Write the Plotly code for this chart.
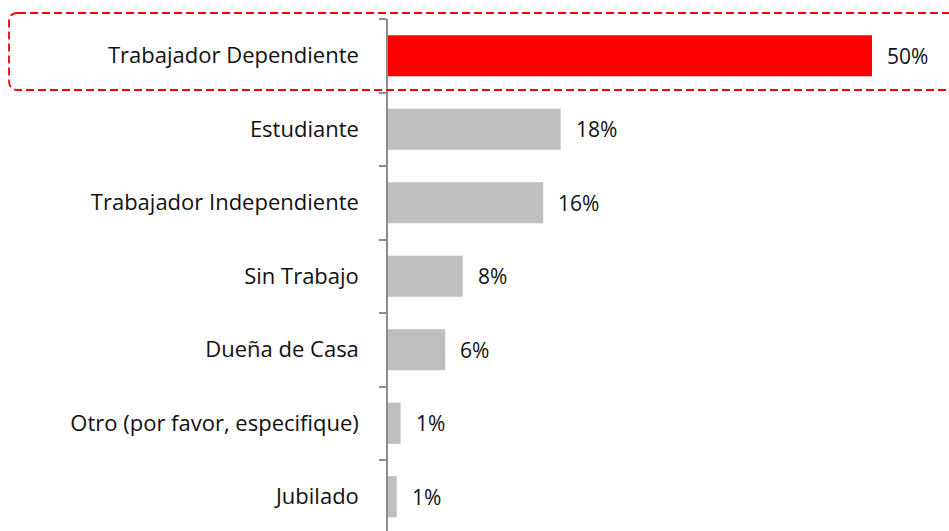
import plotly.graph_objects as go

categories = ["Trabajador Dependiente", "Estudiante", "Trabajador Independiente",
              "Sin Trabajo", "Dueña de Casa", "Otro (por favor, especifique)", "Jubilado"]
values = [49.9, 17.8, 16.0, 7.7, 5.9, 1.3, 0.9]
labels = ["50%", "18%", "16%", "8%", "6%", "1%", "1%"]
colors = ["#FF0000"] + ["#BFBFBF"] * 6

W, H = 949, 531
ML, MT = 388, 19
PW, PH = W - ML, H - MT

FONT = "Open Sans"
FS = 22

fig = go.Figure()
fig.add_trace(go.Bar(
    x=values, y=categories, orientation="h",
    marker=dict(color=colors, line=dict(width=0)),
    hoverinfo="skip",
))

for v, c, t in zip(values, categories, labels):
    fig.add_annotation(x=v, y=c, text=t, showarrow=False, xanchor="left",
                       xshift=13, font=dict(family=FONT, size=21, color="#111111"))

def px(x):
    return (x - ML) / PW

def py(y):
    return 1 - (y - MT) / PH

# dashed rounded highlight around the top row
x0, x1, y0, y1, r = 9, 970, 13, 90, 9
path = (f"M {px(x0+r)},{py(y0)} L {px(x1)},{py(y0)} "
        f"M {px(x1)},{py(y1)} L {px(x0+r)},{py(y1)} "
        f"Q {px(x0)},{py(y1)} {px(x0)},{py(y1-r)} "
        f"L {px(x0)},{py(y0+r)} "
        f"Q {px(x0)},{py(y0)} {px(x0+r)},{py(y0)}")
fig.add_shape(type="path", xref="paper", yref="paper", path=path,
              line=dict(color="#FF0000", width=1.8, dash="8px,4px"))

span = PH / 73.5
fig.update_layout(
    width=W, height=H,
    margin=dict(l=ML, r=0, t=MT, b=0),
    plot_bgcolor="white", paper_bgcolor="white",
    bargap=0.44,
    showlegend=False,
    xaxis=dict(range=[0, PW / 9.7], visible=False),
    yaxis=dict(
        type="category",
        categoryorder="array", categoryarray=categories,
        range=[-0.5 + span, -0.5],
        showline=True, linecolor="#8C8C8C", linewidth=1.5,
        ticks="outside", tickson="boundaries", ticklen=7,
        tickcolor="#8C8C8C", tickwidth=1.5,
        ticklabelstandoff=23,
        showgrid=False, zeroline=False,
        tickfont=dict(family=FONT, size=FS, color="#111111"),
    ),
)

fig.write_html("out.html", config={"displayModeBar": False},
               post_script="document.body.style.margin='0';document.body.style.overflow='hidden';")
